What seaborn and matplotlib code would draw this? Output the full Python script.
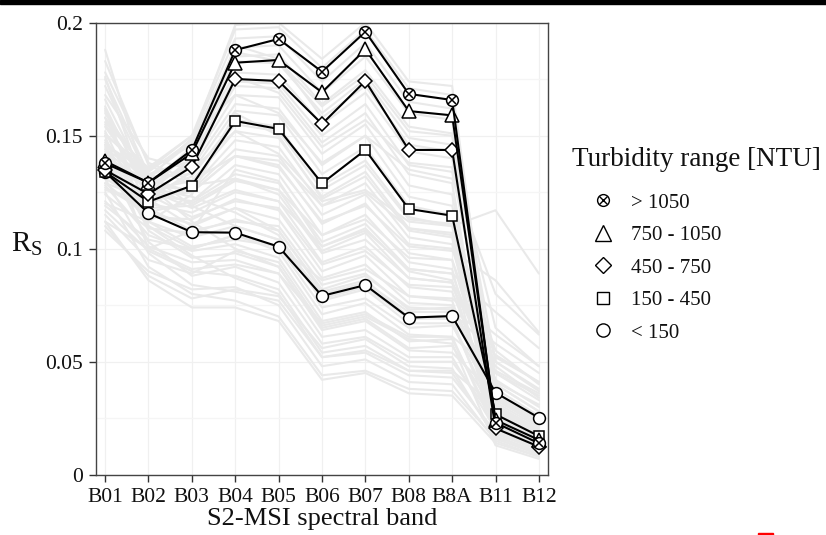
import matplotlib
matplotlib.use("Agg")
import matplotlib.pyplot as plt
from matplotlib.lines import Line2D
from matplotlib.legend_handler import HandlerTuple
from matplotlib.patches import Rectangle
import numpy as np
import pandas as pd
import seaborn as sns

# ---- data -------------------------------------------------------------
bands = ["B01", "B02", "B03", "B04", "B05", "B06", "B07", "B08", "B8A", "B11", "B12"]

classes = ["> 1050", "750 - 1050", "450 - 750", "150 - 450", "< 150"]

rs_gt1050 = [0.1378, 0.1292, 0.1437, 0.1879, 0.1928, 0.1783, 0.1960, 0.1685, 0.1658, 0.0230, 0.0139]
rs_750_1050 = [0.1388, 0.1292, 0.1422, 0.1823, 0.1835, 0.1692, 0.1882, 0.1609, 0.1590, 0.0242, 0.0154]
rs_450_750 = [0.1348, 0.1242, 0.1363, 0.1751, 0.1742, 0.1552, 0.1742, 0.1437, 0.1437, 0.0205, 0.0124]
rs_150_450 = [0.1340, 0.1208, 0.1279, 0.1565, 0.1530, 0.1289, 0.1437, 0.1176, 0.1146, 0.0267, 0.0171]
rs_lt150 = [0.1340, 0.1157, 0.1073, 0.1071, 0.1009, 0.0791, 0.0839, 0.0695, 0.0702, 0.0363, 0.0252]

# individual in-situ spectra shown in the background
spectra = [
    [.112, .086, .074, .074, .068, .042, .045, .036, .035, .014, .008],
    [.125, .092, .080, .077, .070, .044, .046, .038, .037, .016, .009],
    [.108, .090, .082, .083, .075, .048, .051, .041, .040, .015, .008],
    [.131, .098, .084, .081, .077, .052, .054, .044, .043, .019, .011],
    [.117, .099, .090, .088, .082, .054, .057, .046, .045, .017, .010],
    [.140, .103, .088, .092, .085, .058, .061, .050, .050, .024, .014],
    [.121, .101, .094, .095, .089, .061, .064, .052, .052, .020, .012],
    [.146, .108, .096, .098, .092, .065, .069, .056, .057, .028, .018],
    [.128, .106, .099, .102, .096, .068, .072, .059, .060, .022, .013],
    [.119, .104, .100, .106, .099, .071, .076, .062, .061, .019, .011],
    [.152, .112, .101, .104, .101, .074, .078, .065, .066, .033, .022],
    [.134, .112, .105, .110, .104, .077, .082, .067, .067, .026, .016],
    [.124, .109, .107, .113, .108, .081, .086, .070, .069, .021, .013],
    [.158, .118, .108, .112, .110, .084, .089, .073, .074, .040, .028],
    [.137, .116, .111, .118, .113, .087, .093, .076, .075, .029, .018],
    [.129, .114, .113, .122, .117, .090, .097, .079, .077, .023, .014],
    [.143, .120, .116, .125, .121, .094, .101, .083, .081, .032, .021],
    [.163, .124, .114, .121, .118, .093, .099, .084, .083, .048, .034],
    [.133, .118, .119, .130, .126, .099, .107, .087, .085, .025, .015],
    [.148, .124, .121, .133, .129, .103, .111, .091, .089, .036, .024],
    [.127, .116, .121, .137, .133, .106, .115, .094, .091, .020, .012],
    [.139, .123, .125, .141, .137, .111, .120, .098, .095, .030, .019],
    [.155, .128, .126, .144, .141, .115, .124, .102, .100, .042, .030],
    [.131, .120, .127, .148, .145, .119, .129, .105, .102, .023, .014],
    [.144, .126, .130, .152, .149, .123, .134, .109, .106, .034, .022],
    [.136, .124, .132, .157, .154, .128, .139, .114, .110, .027, .017],
    [.160, .132, .133, .155, .152, .126, .137, .113, .111, .055, .040],
    [.129, .122, .134, .161, .159, .133, .145, .119, .115, .021, .013],
    [.147, .129, .136, .164, .162, .137, .150, .123, .119, .038, .026],
    [.138, .127, .138, .168, .167, .142, .155, .128, .124, .026, .016],
    [.133, .125, .140, .172, .171, .147, .160, .133, .129, .019, .011],
    [.151, .132, .141, .174, .173, .150, .164, .137, .134, .045, .033],
    [.141, .129, .143, .178, .177, .155, .169, .143, .140, .029, .018],
    [.136, .128, .145, .183, .182, .160, .175, .149, .146, .022, .013],
    [.156, .135, .146, .185, .186, .164, .179, .154, .151, .050, .037],
    [.144, .132, .147, .189, .190, .169, .185, .160, .157, .031, .020],
    [.139, .131, .149, .193, .194, .174, .191, .165, .162, .024, .014],
    [.150, .136, .150, .197, .198, .180, .197, .171, .168, .036, .023],
    [.146, .134, .148, .199, .200, .184, .200, .174, .172, .028, .017],
    [.168, .140, .135, .152, .142, .121, .126, .112, .110, .117, .089],
    [.178, .138, .130, .141, .136, .112, .119, .101, .099, .086, .063],
    [.188, .126, .118, .126, .121, .101, .108, .091, .089, .072, .056],
    [.162, .110, .100, .106, .101, .086, .091, .079, .078, .062, .048],
    [.172, .131, .125, .141, .139, .119, .125, .109, .107, .052, .041],
    [.183, .137, .128, .131, .126, .106, .113, .096, .095, .041, .031],
    [.150, .100, .091, .093, .089, .067, .071, .061, .061, .046, .036],
    [.145, .135, .150, .168, .160, .138, .150, .135, .131, .080, .062],
    [.176, .122, .110, .118, .108, .082, .088, .074, .073, .058, .045],
    [.115, .095, .089, .099, .094, .066, .070, .060, .058, .013, .007],
    [.166, .128, .112, .100, .092, .064, .068, .055, .054, .035, .025],
    [.154, .127, .123, .116, .106, .078, .083, .069, .069, .045, .035],
    [.126, .121, .139, .176, .169, .145, .157, .138, .136, .035, .022],
    [.112, .100, .108, .135, .130, .101, .109, .090, .086, .017, .010],
    [.140, .110, .097, .087, .080, .052, .055, .046, .046, .030, .020],
    [.158, .133, .139, .190, .184, .158, .172, .146, .143, .065, .048],
    [.120, .112, .124, .160, .150, .122, .132, .108, .105, .018, .011],
    [.175, .133, .119, .110, .104, .080, .085, .072, .072, .053, .041],
    [.132, .126, .144, .187, .183, .163, .177, .152, .150, .040, .028],
    [.161, .127, .120, .131, .124, .098, .104, .087, .085, .050, .038],
    [.110, .088, .078, .082, .079, .056, .060, .048, .047, .016, .009],
]

yticks = [0, 0.05, 0.1, 0.15, 0.2]
ytick_labels = ["0", "0.05", "0.1", "0.15", "0.2"]

# ---- tidy tables ------------------------------------------------------
pos = np.arange(len(bands))
bg = pd.DataFrame(
    [(i, p, v) for i, row in enumerate(spectra) for p, v in zip(pos, row)],
    columns=["spectrum", "band", "rs"],
)
class_values = [rs_gt1050, rs_750_1050, rs_450_750, rs_150_450, rs_lt150]
fg = pd.DataFrame(
    [(c, p, v) for c, vals in zip(classes, class_values) for p, v in zip(pos, vals)],
    columns=["turbidity", "band", "rs"],
)

# ---- style ------------------------------------------------------------
sns.set_theme(style="white")
plt.rcParams["font.family"] = ["Liberation Serif", "DejaVu Serif"]
plt.rcParams["mathtext.fontset"] = "custom"
plt.rcParams["mathtext.rm"] = "Liberation Serif"
plt.rcParams["mathtext.it"] = "Liberation Serif:italic"

W, H = 826, 535
fig = plt.figure(figsize=(W / 100, H / 100), dpi=100)
ax = fig.add_axes([96 / W, 1 - 474.7 / H, 452 / W, 452 / H])

# faint grid
ax.set_axisbelow(True)
ax.set_yticks(yticks)
ax.set_yticks(np.arange(0.025, 0.2, 0.05), minor=True)
ax.grid(True, which="major", color="#f0f0f0", lw=0.9)
ax.grid(True, which="minor", axis="y", color="#f5f5f5", lw=0.9)

# individual spectra
sns.lineplot(data=bg, x="band", y="rs", units="spectrum", estimator=None,
             color="#e9e9e9", lw=1.5, ax=ax, legend=False, zorder=2)

# class mean spectra
styles = {
    "> 1050": dict(marker="o", markersize=8.5),
    "750 - 1050": dict(marker="^", markersize=10),
    "450 - 750": dict(marker="D", markersize=7.5),
    "150 - 450": dict(marker="s", markersize=7.5),
    "< 150": dict(marker="o", markersize=8.5),
}
for c in classes[::-1]:
    sub = fg[fg["turbidity"] == c]
    sns.lineplot(data=sub, x="band", y="rs", color="black", lw=1.5,
                 markerfacecolor="white", markeredgecolor="black",
                 markeredgewidth=1.1, ax=ax, legend=False, zorder=5,
                 **styles[c])
    if c == "> 1050":
        ax.plot(sub["band"], sub["rs"], ls="none", marker="x", ms=5.5,
                mec="black", mew=1.1, zorder=6)

# axes
ax.set_xlim(-0.21, 10.21)
ax.set_ylim(0, 0.2)
ax.set_xticks(pos)
ax.set_xticklabels(bands)
ax.set_yticklabels(ytick_labels)
ax.tick_params(axis="both", which="major", labelsize=15.5, length=5,
               width=1.0, color="#333333", pad=4.5, direction="out",
               bottom=True, left=True, labelcolor="#111111")
ax.tick_params(axis="y", which="minor", length=0)
for s in ax.spines.values():
    s.set_color("#444444")
    s.set_linewidth(1.0)
ax.set_xlabel("S2-MSI spectral band", fontsize=19, labelpad=1, color="#111111")
ax.set_ylabel(r"R$_\mathrm{S}$", fontsize=21, rotation=0, labelpad=0,
              color="#111111", va="center")
ax.yaxis.set_label_coords(-0.153, 0.51)

# legend
def mk(marker, ms):
    return Line2D([], [], ls="none", marker=marker, ms=ms, mfc="white",
                  mec="black", mew=1.0)

handles = [
    (mk("o", 8.5), Line2D([], [], ls="none", marker="x", ms=5.5, mec="black", mew=1.0)),
    mk("^", 11), mk("D", 8.5), mk("s", 8), mk("o", 9.5),
]
fig.text(572 / W, 1 - 160 / H, "Turbidity range [NTU]", fontsize=19.5,
         va="center", ha="left", color="#111111")
leg = fig.legend(handles, classes,
                 handler_map={tuple: HandlerTuple(ndivide=1, pad=0)},
                 loc="upper left", bbox_to_anchor=(590 / W, 1 - 193 / H),
                 frameon=False, fontsize=15, handlelength=1.2,
                 handletextpad=0.75, labelspacing=0.62, borderpad=0,
                 borderaxespad=0)
for t in leg.get_texts():
    t.set_color("#111111")

# page edge decorations
fig.patches.append(Rectangle((0, 1 - 4 / H), 1, 4 / H, transform=fig.transFigure,
                             color="black", zorder=10))
fig.patches.append(Rectangle((758 / W, 0), 15 / W, 2.5 / H,
                             transform=fig.transFigure, color="red", zorder=10))

fig.savefig("out.png", dpi=100)
